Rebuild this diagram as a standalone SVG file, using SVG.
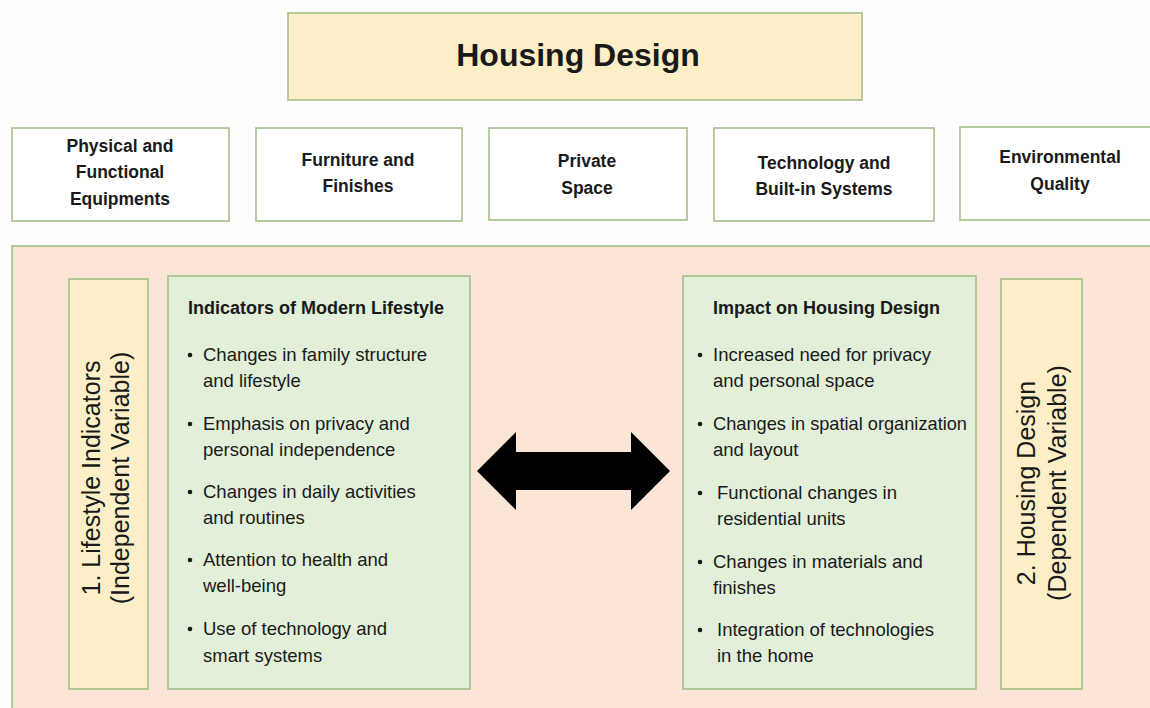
<svg xmlns="http://www.w3.org/2000/svg" width="1150" height="708" viewBox="0 0 1150 708">
<style>
.box{stroke:#a3c088;stroke-width:1.6}
.white{fill:#ffffff}
.yel{fill:#fcefc7}
.peach{fill:#fbe5d6}
.green{fill:#e2efd9}
text{font-family:"Liberation Sans",Arial,sans-serif;fill:#1a1a1a}
.lbl{font-size:17.5px;font-weight:bold;text-anchor:middle}
.head{font-size:18px;font-weight:bold}
.item{font-size:18.5px}
.vert{font-size:25px;text-anchor:middle}
.dot{fill:#1a1a1a}
</style>
<rect width="1150" height="708" fill="#fdfdfd"/>
<g id="title">
<rect class="box yel" x="288" y="13" width="574" height="87"/>
<text x="578" y="66" style="font-size:32px;font-weight:bold;text-anchor:middle">Housing Design</text>
</g>
<g id="physical">
<rect class="box white" x="12" y="128" width="217" height="93"/>
<text class="lbl" x="120" y="152">Physical and</text>
<text class="lbl" x="120" y="178">Functional</text>
<text class="lbl" x="120" y="205">Equipments</text>
</g>
<g id="furniture">
<rect class="box white" x="256" y="128" width="206" height="93"/>
<text class="lbl" x="358" y="166">Furniture and</text>
<text class="lbl" x="358" y="192">Finishes</text>
</g>
<g id="private">
<rect class="box white" x="489" y="128" width="198" height="92"/>
<text class="lbl" x="587" y="167">Private</text>
<text class="lbl" x="587" y="194">Space</text>
</g>
<g id="technology">
<rect class="box white" x="714" y="128" width="220" height="93"/>
<text class="lbl" x="824" y="169">Technology and</text>
<text class="lbl" x="824" y="195">Built-in Systems</text>
</g>
<g id="environmental">
<rect class="box white" x="960" y="127" width="200" height="93"/>
<text class="lbl" x="1060" y="163">Environmental</text>
<text class="lbl" x="1060" y="190">Quality</text>
</g>
<g id="panel">
<rect class="box peach" x="12" y="246" width="1150" height="470"/>
</g>
<g id="lifestyle-indicators">
<rect class="box yel" x="69" y="279" width="79" height="410"/>
<text class="vert" transform="translate(100,478) rotate(-90)">1. Lifestyle Indicators</text>
<text class="vert" transform="translate(129,478) rotate(-90)">(Independent Variable)</text>
</g>
<g id="modern-lifestyle">
<rect class="box green" x="168" y="276" width="302" height="413"/>
<text class="head" x="188" y="314">Indicators of Modern Lifestyle</text>
<circle class="dot" cx="190" cy="355" r="2.3"/>
<text class="item" x="203" y="361">Changes in family structure</text>
<text class="item" x="203" y="387">and lifestyle</text>
<circle class="dot" cx="190" cy="424" r="2.3"/>
<text class="item" x="203" y="430">Emphasis on privacy and</text>
<text class="item" x="203" y="456">personal independence</text>
<circle class="dot" cx="190" cy="492" r="2.3"/>
<text class="item" x="203" y="498">Changes in daily activities</text>
<text class="item" x="203" y="524">and routines</text>
<circle class="dot" cx="190" cy="560" r="2.3"/>
<text class="item" x="203" y="566">Attention to health and</text>
<text class="item" x="203" y="592">well-being</text>
<circle class="dot" cx="190" cy="629" r="2.3"/>
<text class="item" x="203" y="635">Use of technology and</text>
<text class="item" x="203" y="662">smart systems</text>
</g>
<g id="impact">
<rect class="box green" x="683" y="276" width="293" height="413"/>
<text class="head" x="713" y="314">Impact on Housing Design</text>
<circle class="dot" cx="700" cy="355" r="2.3"/>
<text class="item" x="713" y="361">Increased need for privacy</text>
<text class="item" x="713" y="387">and personal space</text>
<circle class="dot" cx="700" cy="424" r="2.3"/>
<text class="item" x="713" y="430" textLength="254" lengthAdjust="spacingAndGlyphs">Changes in spatial organization</text>
<text class="item" x="713" y="456">and layout</text>
<circle class="dot" cx="700" cy="493" r="2.3"/>
<text class="item" x="717" y="499">Functional changes in</text>
<text class="item" x="717" y="525">residential units</text>
<circle class="dot" cx="700" cy="562" r="2.3"/>
<text class="item" x="713" y="568">Changes in materials and</text>
<text class="item" x="713" y="594">finishes</text>
<circle class="dot" cx="700" cy="630" r="2.3"/>
<text class="item" x="717" y="636">Integration of technologies</text>
<text class="item" x="717" y="662">in the home</text>
</g>
<g id="housing-design-var">
<rect class="box yel" x="1001" y="279" width="81" height="410"/>
<text class="vert" transform="translate(1035,483) rotate(-90)">2. Housing Design</text>
<text class="vert" transform="translate(1066,483) rotate(-90)">(Dependent Variable)</text>
</g>
<g id="connectors">
<polygon points="477,471 516,432 516,452 631,452 631,432 670,471 631,510 631,490 516,490 516,510" fill="#000000"/>
</g>
</svg>
